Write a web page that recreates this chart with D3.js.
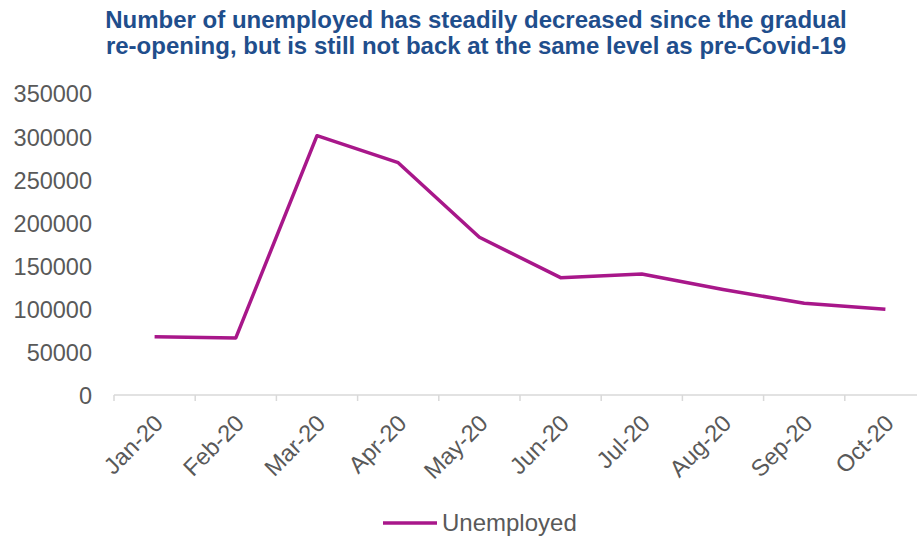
<!DOCTYPE html>
<html>
<head>
<meta charset="utf-8">
<script src="https://cdn.jsdelivr.net/npm/d3@7"></script>
<style>
  body { margin: 0; background: #fff; }
  svg { font-family: "Liberation Sans", Arial, sans-serif; }
  .title { font-weight: bold; fill: #1F4E8C; font-size: 24px; }
  .tickLb { fill: #595959; font-size: 23.5px; }
  .legLb { fill: #595959; font-size: 24px; }
</style>
</head>
<body>
<div id="main"></div>
<script>
const ctx = {
    w: 917,
    h: 537,
    lineColor: "#A8178A",
    axisColor: "#D9D9D9",
};

// data
const months = ["Jan-20", "Feb-20", "Mar-20", "Apr-20", "May-20",
                "Jun-20", "Jul-20", "Aug-20", "Sep-20", "Oct-20"];
const unemployed = [67700, 66200, 301000, 269700, 183100,
                    136200, 140500, 122500, 106400, 99500];
const yTicks = [0, 50000, 100000, 150000, 200000, 250000, 300000, 350000];
const titleLines = ["Number of unemployed has steadily decreased since the gradual",
                    "re-opening, but is still not back at the same level as pre-Covid-19"];
const seriesName = "Unemployed";

function createViz(){
    let svgEl = d3.select("#main").append("svg")
        .attr("width", ctx.w)
        .attr("height", ctx.h);
    let rootG = svgEl.append("g").attr("id", "rootG");

    // scales
    ctx.xScale = d3.scaleBand().domain(months).range([114, 926]);
    ctx.yScale = d3.scaleLinear().domain([0, 350000]).range([395, 93.5]);

    // title
    rootG.append("g").selectAll("text")
        .data(titleLines)
        .join("text")
        .classed("title", true)
        .attr("x", 476)
        .attr("y", (d, i) => 28 + i * 26)
        .attr("text-anchor", "middle")
        .text(d => d);

    // y axis labels only (no line, no ticks)
    let yAx = rootG.append("g")
        .attr("transform", "translate(92,0)")
        .call(d3.axisLeft(ctx.yScale).tickValues(yTicks).tickSize(0).tickPadding(0)
              .tickFormat(d3.format("d")));
    yAx.select(".domain").remove();
    yAx.attr("font-size", null).attr("font-family", null);
    yAx.selectAll("text").classed("tickLb", true).attr("dy", "0.36em");

    // x axis: baseline + ticks on category boundaries
    let xG = rootG.append("g");
    let y0 = ctx.yScale(0);
    let xr = ctx.xScale.range();
    xG.append("line")
        .attr("x1", xr[0]).attr("x2", xr[1])
        .attr("y1", y0).attr("y2", y0)
        .attr("stroke", ctx.axisColor).attr("stroke-width", 1.5);
    xG.selectAll("line.tk")
        .data(months)
        .join("line")
        .attr("class", "tk")
        .attr("x1", d => ctx.xScale(d)).attr("x2", d => ctx.xScale(d))
        .attr("y1", y0).attr("y2", y0 + 6)
        .attr("stroke", ctx.axisColor).attr("stroke-width", 1.5);
    // rotated labels
    xG.selectAll("text")
        .data(months)
        .join("text")
        .classed("tickLb", true)
        .attr("text-anchor", "end")
        .attr("transform", d => {
            let cx = ctx.xScale(d) + ctx.xScale.bandwidth() / 2 + 4;
            return `translate(${cx},${y0 + 24}) rotate(-45)`;
        })
        .attr("dy", "0.35em")
        .text(d => d);

    // the line
    let lineGen = d3.line()
        .x((d, i) => ctx.xScale(months[i]) + ctx.xScale.bandwidth() / 2)
        .y(d => ctx.yScale(d));
    rootG.append("path")
        .datum(unemployed)
        .attr("d", lineGen)
        .attr("fill", "none")
        .attr("stroke", ctx.lineColor)
        .attr("stroke-width", 3.5)
        .attr("stroke-linejoin", "round");

    // legend
    let legG = rootG.append("g");
    legG.append("line")
        .attr("x1", 383).attr("x2", 437)
        .attr("y1", 523).attr("y2", 523)
        .attr("stroke", ctx.lineColor).attr("stroke-width", 3.5);
    legG.append("text")
        .classed("legLb", true)
        .attr("x", 442).attr("y", 523)
        .attr("dy", "0.35em")
        .text(seriesName);
}

createViz();
</script>
</body>
</html>
